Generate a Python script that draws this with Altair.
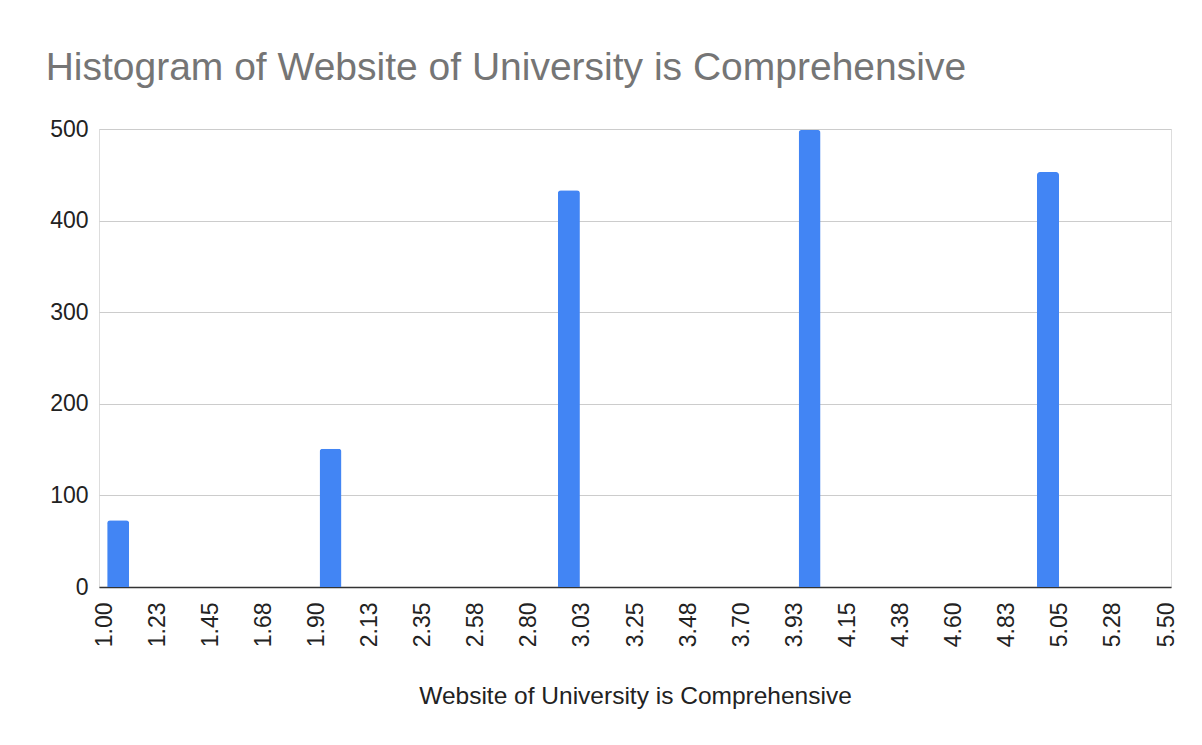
import json
import altair as alt
import pandas as pd

# ---- data ----
bar_positions = [1.06, 1.96, 2.97, 3.99, 5.00]
bar_counts = [73, 151, 433, 499, 453]

x_ticks = [1.0 + 0.225 * k for k in range(21)]
x_tick_labels = ["1.00", "1.23", "1.45", "1.68", "1.90", "2.13", "2.35", "2.58",
                 "2.80", "3.03", "3.25", "3.48", "3.70", "3.93", "4.15", "4.38",
                 "4.60", "4.83", "5.05", "5.28", "5.50"]
y_ticks = [0, 100, 200, 300, 400, 500]

title_text = "Histogram of Website of University is Comprehensive"
x_title = "Website of University is Comprehensive"

df = pd.DataFrame({"value": bar_positions, "count": bar_counts})

label_expr = json.dumps(x_tick_labels) + "[round((datum.value - 1) / 0.225)]"

FONT = "Liberation Sans"

chart = (
    alt.Chart(df)
    .mark_bar(color="#4285f4", size=22, cornerRadiusTopLeft=3, cornerRadiusTopRight=3)
    .encode(
        x=alt.X(
            "value:Q",
            scale=alt.Scale(domain=[1.0, 5.5], nice=False, zero=False),
            axis=alt.Axis(
                values=x_ticks,
                labelExpr=label_expr,
                labelAngle=-90,
                labelAlign="right",
                labelBaseline="middle",
                labelPadding=15,
                labelFontSize=23,
                labelColor="#222222",
                labelFont=FONT,
                labelOverlap=False,
                ticks=False,
                grid=False,
                domainColor="#333333",
                domainWidth=1.5,
                title=x_title,
                titleFont=FONT,
                titleFontSize=24.5,
                titleFontWeight="normal",
                titleColor="#222222",
                titlePadding=38,
            ),
        ),
        y=alt.Y(
            "count:Q",
            scale=alt.Scale(domain=[0, 500], nice=False),
            axis=alt.Axis(
                values=y_ticks,
                labelFontSize=23,
                labelColor="#222222",
                labelFont=FONT,
                labelPadding=11,
                ticks=False,
                domain=False,
                gridColor="#cccccc",
                gridWidth=1,
                title=None,
            ),
        ),
    )
    .properties(
        width=1072,
        height=458,
        autosize=alt.AutoSizeParams(type="none"),
        padding={"left": 91, "top": 121, "right": 20, "bottom": 130},
        title=alt.TitleParams(
            text=title_text,
            anchor="start",
            font=FONT,
            fontSize=39,
            fontWeight="normal",
            color="#757575",
            offset=30,
            dx=-4,
        ),
    )
    .configure_view(stroke=None)
    .configure(background="white")
)

chart.save("out.html", embed_options={"renderer": "svg", "actions": False})
